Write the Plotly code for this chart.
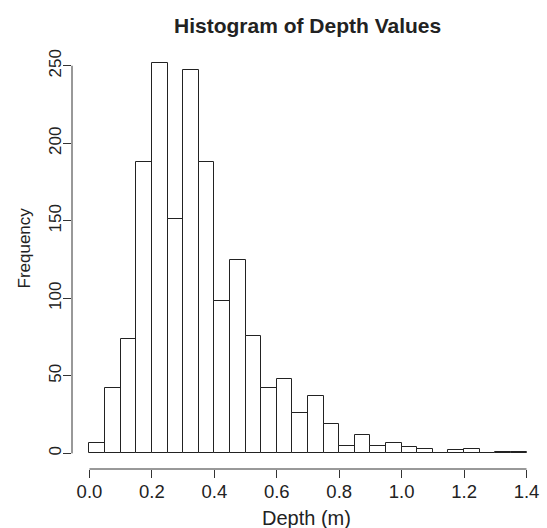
import plotly.graph_objects as go

# Data
bin_edges = [round(i * 0.05, 2) for i in range(29)]
counts = [7, 42, 74, 188, 252, 151, 247, 188, 98, 125, 76, 42, 48, 26,
          37, 19, 5, 12, 5, 7, 4, 3, 0, 2, 3, 0, 1, 1]
x_ticks = [0.0, 0.2, 0.4, 0.6, 0.8, 1.0, 1.2, 1.4]
x_tick_labels = ["0.0", "0.2", "0.4", "0.6", "0.8", "1.0", "1.2", "1.4"]
y_ticks = [0, 50, 100, 150, 200, 250]
title_text = "Histogram of Depth Values"
x_title = "Depth (m)"
y_title = "Frequency"

centers = [(bin_edges[i] + bin_edges[i + 1]) / 2 for i in range(len(counts))]
widths = [bin_edges[i + 1] - bin_edges[i] for i in range(len(counts))]

W, H = 547, 528
L, R, T, B = 72, 3, 47, 59
PW, PH = W - L - R, H - T - B

def px_x(p):
    return (p - L) / PW

def px_y(p):
    return (H - B - p) / PH

FONT = "Liberation Sans, Arial, Helvetica, sans-serif"
INK = "#222222"

fig = go.Figure()
fig.add_trace(go.Bar(
    x=centers, y=counts, width=widths,
    marker=dict(color="white", line=dict(color=INK, width=1)),
    hoverinfo="x+y",
))

xmin, xmax = bin_edges[0], bin_edges[-1]
ymax = max(counts)
xpad = (xmax - xmin) * 0.04
ypad = ymax * 0.04

fig.update_layout(
    width=W, height=H,
    margin=dict(l=L, r=R, t=T, b=B, pad=0),
    plot_bgcolor="white", paper_bgcolor="white",
    showlegend=False,
    bargap=0,
    font=dict(family=FONT, color=INK, size=18),
    xaxis=dict(
        range=[xmin - xpad, xmax + xpad],
        tickmode="array", tickvals=x_ticks, ticktext=x_tick_labels,
        ticks="outside", ticklen=8, tickwidth=1, tickcolor="#333333",
        ticklabelstandoff=-2,
        showgrid=False, zeroline=False, showline=False,
        tickfont=dict(size=18.5, family=FONT, color=INK),
    ),
    yaxis=dict(
        range=[-ypad, ymax + ypad],
        tickmode="array", tickvals=y_ticks,
        ticks="outside", ticklen=8, tickwidth=1, tickcolor="#333333",
        tickangle=-90, ticklabelstandoff=-5,
        showgrid=False, zeroline=False, showline=False,
        tickfont=dict(size=17, family=FONT, color=INK),
    ),
    shapes=[
        dict(type="line", xref="x", yref="paper", x0=x_ticks[0], x1=x_ticks[-1],
             y0=0, y1=0, line=dict(color="#333333", width=1)),
        dict(type="line", xref="paper", yref="y", x0=0, x1=0,
             y0=y_ticks[0], y1=y_ticks[-1], line=dict(color="#333333", width=1)),
    ],
    annotations=[
        dict(text="<b>" + title_text + "</b>", xref="paper", yref="paper",
             x=px_x(307.5), y=px_y(25.5), xanchor="center", yanchor="middle",
             showarrow=False, font=dict(size=21, family=FONT, color=INK)),
        dict(text=x_title, xref="paper", yref="paper",
             x=px_x(306.7), y=px_y(518), xanchor="center", yanchor="middle",
             showarrow=False, font=dict(size=20, family=FONT, color=INK)),
        dict(text=y_title, xref="paper", yref="paper", textangle=-90,
             x=px_x(23.5), y=px_y(248), xanchor="center", yanchor="middle",
             showarrow=False, font=dict(size=17, family=FONT, color=INK)),
    ],
)

fig.write_html("out.html")
